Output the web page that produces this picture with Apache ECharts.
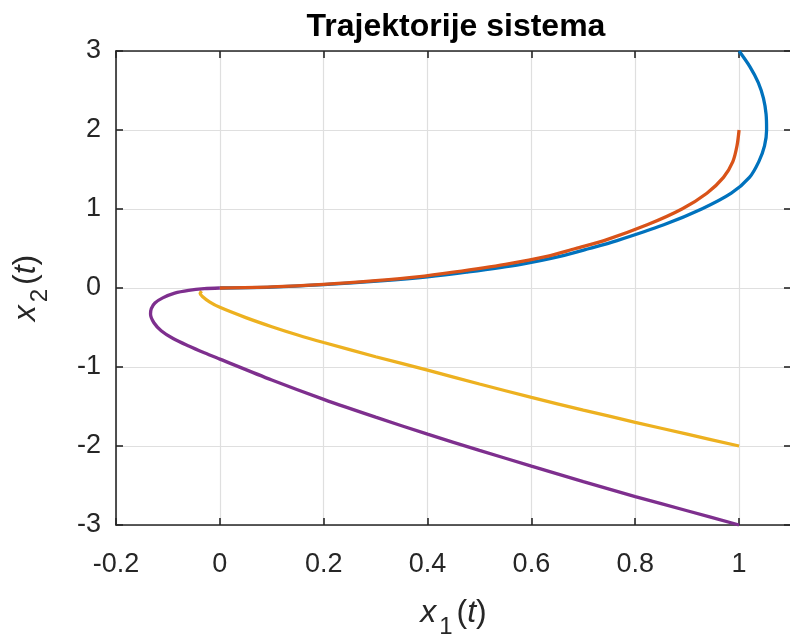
<!DOCTYPE html>
<html>
<head>
<meta charset="utf-8">
<script src="https://cdn.jsdelivr.net/npm/echarts@6/dist/echarts.min.js"></script>
<style>
  html, body { margin: 0; padding: 0; background: #fff; }
  #chart { width: 790px; height: 634px; }
</style>
</head>
<body>
<div id="chart"></div>
<script>
// trajectories, [x1, x2]
var traj1 = [[1.0, 3.0], [1.021, 2.8], [1.037, 2.6], [1.047, 2.4], [1.052, 2.2], [1.053, 2.0],
    [1.049, 1.8], [1.038, 1.6], [1.02, 1.4], [0.985, 1.2], [0.928, 1.0], [0.855, 0.8],
    [0.765, 0.6], [0.712, 0.5], [0.655, 0.4], [0.58, 0.3], [0.475, 0.2], [0.4, 0.14],
    [0.31, 0.09], [0.2, 0.043], [0.1, 0.012], [0, 0]];
var traj2 = [[1.0, 2.0], [0.996, 1.8], [0.988, 1.6], [0.97, 1.4], [0.938, 1.2], [0.89, 1.0],
    [0.823, 0.8], [0.74, 0.6], [0.685, 0.5], [0.63, 0.4], [0.55, 0.3], [0.45, 0.2],
    [0.38, 0.14], [0.3, 0.093], [0.2, 0.045], [0.1, 0.013], [0, 0]];
var traj3 = [[1.0, -2.0], [0.9, -1.85], [0.8, -1.70], [0.7, -1.545], [0.6, -1.385], [0.5, -1.215],
    [0.4, -1.04], [0.3, -0.87], [0.2, -0.69], [0.15, -0.595], [0.1, -0.49], [0.05, -0.375],
    [0, -0.245], [-0.02, -0.175], [-0.033, -0.11], [-0.038, -0.07], [-0.035, -0.04]];
var traj4 = [[1.0, -3.0], [0.9, -2.82], [0.8, -2.64], [0.7, -2.45], [0.6, -2.255], [0.5, -2.055],
    [0.4, -1.85], [0.3, -1.635], [0.2, -1.41], [0.1, -1.165], [0, -0.90], [-0.03, -0.82],
    [-0.06, -0.735], [-0.09, -0.64], [-0.113, -0.54], [-0.127, -0.44], [-0.1335, -0.33],
    [-0.132, -0.26], [-0.125, -0.19], [-0.11, -0.125], [-0.087, -0.065], [-0.06, -0.03],
    [-0.03, -0.009], [0, 0]];

var colors = ['#0072BD', '#D95319', '#EDB120', '#7E2F8E'];
var xTicks = { min: -0.2, max: 1.1, interval: 0.2 };
var yTicks = { min: -3, max: 3, interval: 1 };

var font = "'Liberation Sans', Arial, Helvetica, sans-serif";
var ink = '#262626';

function axisBase(pos, showLabel, ticks) {
    return {
        type: 'value',
        position: pos,
        min: ticks.min,
        max: ticks.max,
        interval: ticks.interval,
        axisLine: { show: true, onZero: false, lineStyle: { color: ink, width: 1.6 } },
        axisTick: { show: true, inside: true, length: 7, lineStyle: { color: ink, width: 1.6 } },
        axisLabel: {
            show: showLabel,
            color: ink,
            fontSize: 27,
            fontFamily: font
        },
        splitLine: { show: showLabel, lineStyle: { color: '#dfdfdf', width: 1.2 } }
    };
}

var nameStyle = {
    color: ink,
    fontFamily: font,
    rich: {
        i: { fontSize: 32, fontStyle: 'italic', fontFamily: font, color: ink },
        n: { fontSize: 32, fontFamily: font, color: ink },
        s: { fontSize: 24, fontFamily: font, color: ink, padding: [28, 4, 0, 3] }
    }
};

var xBottom = axisBase('bottom', true, xTicks);
xBottom.axisLabel.margin = 26;
xBottom.axisLabel.showMaxLabel = false;
xBottom.name = '{i|x}{s|1}{n|(}{i|t}{n|)}';
xBottom.nameLocation = 'middle';
xBottom.nameGap = 62;
xBottom.nameTextStyle = nameStyle;

var yLeft = axisBase('left', true, yTicks);
yLeft.axisLabel.margin = 15;
yLeft.name = '{i|x}{s|2}{n|(}{i|t}{n|)}';
yLeft.nameLocation = 'middle';
yLeft.nameGap = 64;
yLeft.nameRotate = 90;
yLeft.nameTextStyle = nameStyle;

var xTop = axisBase('top', false, xTicks);
var yRight = axisBase('right', false, yTicks);

function line(data, color) {
    return {
        type: 'line',
        data: data,
        xAxisIndex: 0,
        yAxisIndex: 0,
        showSymbol: false,
        symbol: 'none',
        smooth: 0.3,
        lineStyle: { color: color, width: 3.3 },
        silent: true
    };
}

var chart = echarts.init(document.getElementById('chart'), null, { renderer: 'canvas' });
chart.setOption({
    animation: false,
    backgroundColor: '#fff',
    title: {
        text: 'Trajektorije sistema',
        left: 451,
        top: 6,
        textAlign: 'center',
        textStyle: { fontSize: 32, fontWeight: 'bold', color: '#000', fontFamily: font }
    },
    grid: {
        left: 116, top: 51, width: 675, height: 474,
        containLabel: false, outerBoundsMode: 'none'
    },
    xAxis: [xBottom, xTop],
    yAxis: [yLeft, yRight],
    series: [
        line(traj1, colors[0]),
        line(traj2, colors[1]),
        line(traj3, colors[2]),
        line(traj4, colors[3])
    ]
});
</script>
</body>
</html>
